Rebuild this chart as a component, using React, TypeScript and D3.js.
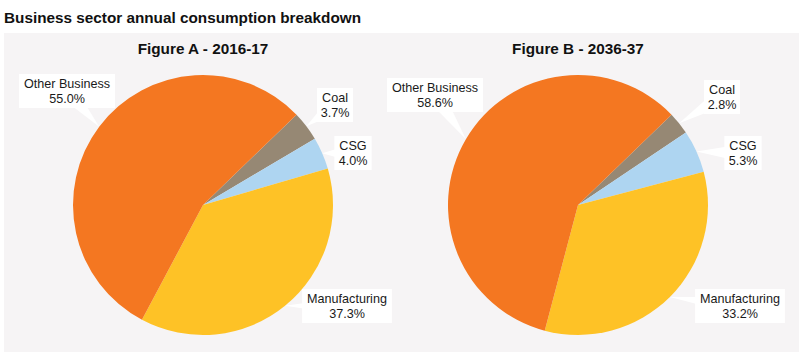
import { useEffect, useRef } from "react";
import * as d3 from "d3";

const categories = ["Coal", "CSG", "Manufacturing", "Other Business"];
const figureTitles = ["Figure A - 2016-17", "Figure B - 2036-37"];
const sharesA = [3.7, 4.0, 37.3, 55.0];
const sharesB = [2.8, 5.3, 33.2, 58.6];

const colors = ["#968874", "#aed5f1", "#fec226", "#f47721"];

// label box offsets (box centre, relative to pie centre), per figure
const labelPosA = [
  [132, -100],
  [150, -52],
  [144, 101],
  [-136, -114],
];
const labelPosB = [
  [144, -108],
  [165, -52],
  [162, 101],
  [-143, -110],
];

type Slice = { label: string; value: number };

export default function App() {
  const ref = useRef<SVGSVGElement | null>(null);

  useEffect(() => {
    const width = 799;
    const height = 352;
    const radius = 130;
    const font = "'Liberation Sans', Arial, sans-serif";
    const svg = d3.select(ref.current);
    svg.selectAll("*").remove();

    svg.append("rect").attr("width", width).attr("height", height).attr("fill", "#ffffff");
    svg
      .append("rect")
      .attr("x", 4)
      .attr("y", 33)
      .attr("width", width - 4)
      .attr("height", height - 33)
      .attr("fill", "#f6f4f5");

    svg
      .append("text")
      .attr("x", 4)
      .attr("y", 23)
      .style("font-family", font)
      .style("font-weight", "bold")
      .style("font-size", "15.3px")
      .attr("fill", "#111")
      .text("Business sector annual consumption breakdown");

    const pie = d3
      .pie<Slice>()
      .value((d) => d.value)
      .sort(null)
      .startAngle((46 * Math.PI) / 180)
      .endAngle((46 * Math.PI) / 180 + 2 * Math.PI);

    const arc = d3.arc<d3.PieArcDatum<Slice>>().innerRadius(0).outerRadius(radius);
    const edge = d3.arc<d3.PieArcDatum<Slice>>().innerRadius(radius).outerRadius(radius);

    const figures = [
      { title: figureTitles[0], values: sharesA, pos: labelPosA, cx: 203 },
      { title: figureTitles[1], values: sharesB, pos: labelPosB, cx: 578 },
    ];

    figures.forEach((f) => {
      const cy = 205;
      svg
        .append("text")
        .attr("x", f.cx)
        .attr("y", 54)
        .attr("text-anchor", "middle")
        .style("font-family", font)
        .style("font-weight", "bold")
        .style("font-size", "15.3px")
        .attr("fill", "#111")
        .text(f.title);

      const data: Slice[] = categories.map((c, i) => ({ label: c, value: f.values[i] }));
      const g = svg.append("g").attr("transform", `translate(${f.cx},${cy})`);
      const arcs = pie(data);

      g.selectAll(".slice")
        .data(arcs)
        .enter()
        .append("path")
        .attr("d", arc)
        .attr("fill", (_, i) => colors[i]);

      // callouts
      const labels = g.selectAll(".callout").data(arcs).enter().append("g");
      labels.each(function (d, i) {
        const sel = d3.select(this);
        const [tx, ty] = edge.centroid(d);
        const [bx, by] = f.pos[i];
        const lines = [d.data.label, `${d.data.value.toFixed(1)}%`];
        const tmp = sel
          .append("text")
          .style("font-family", font)
          .style("font-size", "12.6px")
          .text(lines[0]);
        const tw = (tmp.node() as SVGTextElement).getComputedTextLength();
        tmp.remove();
        const bw = tw + 10;
        const bh = 34;
        const dx = tx - bx;
        const dy = ty - by;
        const len = Math.hypot(dx, dy) || 1;
        const px = (-dy / len) * 9;
        const py = (dx / len) * 9;
        sel
          .append("path")
          .attr("d", `M${tx},${ty}L${bx + px},${by + py}L${bx - px},${by - py}Z`)
          .attr("fill", "#ffffff");
        sel
          .append("rect")
          .attr("x", bx - bw / 2)
          .attr("y", by - bh / 2)
          .attr("width", bw)
          .attr("height", bh)
          .attr("fill", "#ffffff");
        sel
          .selectAll("text.l")
          .data(lines)
          .enter()
          .append("text")
          .attr("x", bx)
          .attr("y", (_, k) => by - 3 + k * 15)
          .attr("text-anchor", "middle")
          .style("font-family", font)
          .style("font-size", "12.6px")
          .attr("fill", "#1a1a1a")
          .text((t) => t);
      });
    });
  }, []);

  return (
    <svg
      ref={ref}
      width={799}
      height={352}
      style={{ position: "absolute", left: 0, top: 0, display: "block" }}
    />
  );
}
